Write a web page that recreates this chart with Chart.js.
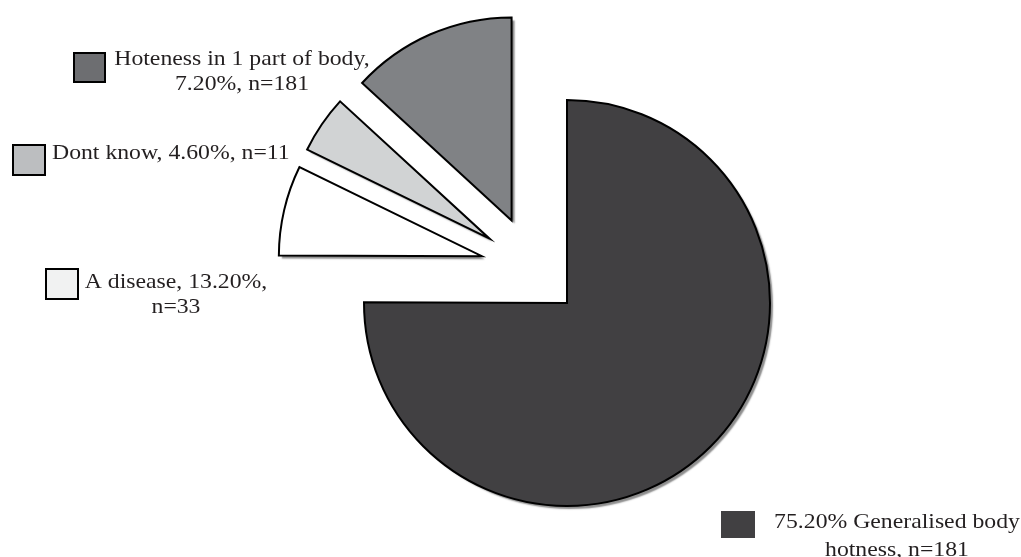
<!DOCTYPE html>
<html>
<head>
<meta charset="utf-8">
<script src="https://cdn.jsdelivr.net/npm/chart.js@4"></script>
<style>
  html, body { margin: 0; padding: 0; background: #fff; }
  #wrap { width: 1021px; height: 557px; }
</style>
</head>
<body>
<div id="wrap"><canvas id="pieChart" width="1021" height="557"></canvas></div>
<script>
// slices, clockwise from 12 o'clock
const categories = ['Generalised body hotness', 'A disease', 'Dont know', 'Hoteness in 1 part of body'];
const percentValues = [75.2, 7.2, 4.6, 13.2];
const sliceColors = ['#414042', '#ffffff', '#d1d3d4', '#808285'];
const explodedSlices = [false, true, true, true];

// label texts as printed on the figure
const labelLines = [
    ['75.20% Generalised body', 'hotness, n=181'],
    ['A disease, 13.20%,', 'n=33'],
    ['Dont know, 4.60%, n=11'],
    ['Hoteness in 1 part of body,', '7.20%, n=181']
];
const swatchColors = ['#414042', '#f1f2f2', '#bcbec0', '#6d6e71'];

// where each label sits
const labelLayout = [
    { sx: 721, sy: 511, sw: 34, sh: 27, border: false, tx: 897, ty: [522, 550], align: 'center' },
    { sx: 46, sy: 269, sw: 32, sh: 30, border: true, tx: 176, ty: [282, 307], align: 'center' },
    { sx: 13, sy: 145, sw: 32, sh: 30, border: true, tx: 52, ty: [153], align: 'left' },
    { sx: 74, sy: 53, sw: 31, sh: 29, border: true, tx: 242, ty: [59, 84], align: 'center' }
];

// pull the small slices away from the big one
const explodePlugin = {
    id: 'explode',
    afterDatasetsUpdate(chart) {
        const meta = chart.getDatasetMeta(0);
        meta.data.forEach((arc, i) => {
            if (!explodedSlices[i]) return;
            const mid = (arc.startAngle + arc.endAngle) / 2;
            arc.x += Math.cos(mid) * 52 - 34.5;
            arc.y += Math.sin(mid) * 52 - 35;
        });
    }
};

// grey drop shadow behind each slice
const shadowPlugin = {
    id: 'sliceShadow',
    beforeDatasetsDraw(chart) {
        const ctx = chart.ctx;
        const meta = chart.getDatasetMeta(0);
        ctx.save();
        ctx.shadowColor = 'rgba(0,0,0,0.45)';
        ctx.shadowOffsetX = 3;
        ctx.shadowOffsetY = 3;
        ctx.shadowBlur = 1.5;
        meta.data.forEach(arc => {
            const saved = arc.options;
            arc.options = Object.assign({}, saved, { borderWidth: 0 });
            arc.draw(ctx);
            arc.options = saved;
        });
        ctx.restore();
    }
};

// labels with their colour boxes
const labelPlugin = {
    id: 'sliceLabels',
    afterDraw(chart) {
        const ctx = chart.ctx;
        ctx.save();
        ctx.font = '21px "Liberation Serif", "DejaVu Serif", serif';
        ctx.textBaseline = 'middle';
        labelLayout.forEach((l, i) => {
            ctx.fillStyle = swatchColors[i];
            ctx.fillRect(l.sx, l.sy, l.sw, l.sh);
            if (l.border) {
                ctx.strokeStyle = '#000';
                ctx.lineWidth = 2;
                ctx.strokeRect(l.sx, l.sy, l.sw, l.sh);
            }
            ctx.fillStyle = '#231f20';
            ctx.textAlign = l.align;
            labelLines[i].forEach((line, j) => {
                // the original face is wider than Liberation Serif
                ctx.save();
                ctx.translate(l.tx, l.ty[j]);
                ctx.scale(1.13, 1);
                ctx.fillText(line, 0, 0);
                ctx.restore();
            });
        });
        ctx.restore();
    }
};

new Chart(document.getElementById('pieChart'), {
    type: 'pie',
    data: {
        labels: categories,
        datasets: [{
            data: percentValues,
            backgroundColor: sliceColors,
            borderColor: '#000000',
            borderWidth: 2,
            borderJoinStyle: 'miter'
        }]
    },
    options: {
        responsive: false,
        animation: false,
        events: [],
        radius: 203,
        layout: { padding: { left: 113, right: 0, top: 49, bottom: 0 } },
        plugins: {
            legend: { display: false },
            tooltip: { enabled: false }
        }
    },
    plugins: [explodePlugin, shadowPlugin, labelPlugin]
});
</script>
</body>
</html>
